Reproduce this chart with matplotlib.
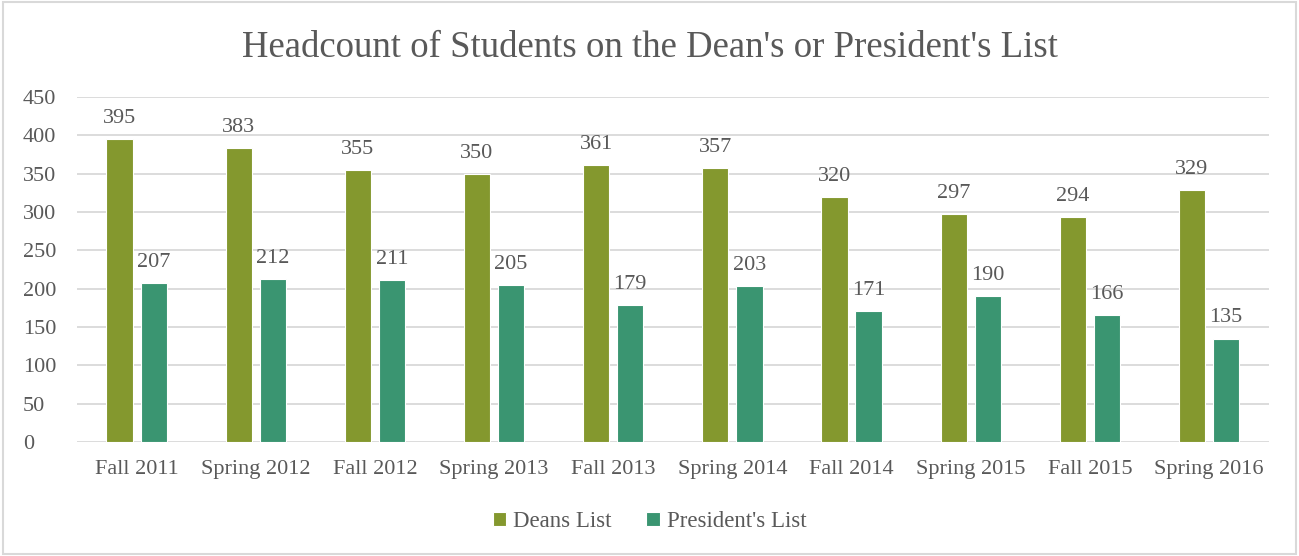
import matplotlib.pyplot as plt
import numpy as np
from matplotlib.patches import Rectangle

terms = ['Fall 2011', 'Spring 2012', 'Fall 2012', 'Spring 2013', 'Fall 2013',
         'Spring 2014', 'Fall 2014', 'Spring 2015', 'Fall 2015', 'Spring 2016']
deans_list = [395, 383, 355, 350, 361, 357, 320, 297, 294, 329]
presidents_list = [207, 212, 211, 205, 179, 203, 171, 190, 166, 135]

text_color = '#595959'
grid_color = '#d9d9d9'
plt.rcParams['font.family'] = ['Liberation Serif', 'DejaVu Serif']

fig = plt.figure(figsize=(12.99, 5.56), dpi=100)
ax = fig.add_axes([0.0593, 0.205, 0.9173, 0.6205])

x = np.arange(len(terms))
width = 0.22
offset = 0.143
bars1 = ax.bar(x - offset, deans_list, width, color='#84982e', edgecolor='white',
               linewidth=0.8, label='Deans List', zorder=3)
bars2 = ax.bar(x + offset, presidents_list, width, color='#3a9571', edgecolor='white',
               linewidth=0.8, label="President's List", zorder=3)

for bars in (bars1, bars2):
    for b in bars:
        ax.annotate(str(int(b.get_height())),
                    (b.get_x() + b.get_width() / 2, b.get_height()),
                    xytext=(0, 8), textcoords='offset points',
                    ha='center', va='bottom', fontsize=16, color=text_color)

ax.set_xlim(-0.5, len(terms) - 0.5)
ax.set_ylim(0, 450)
ax.set_yticks(range(0, 451, 50))
ax.set_xticks(x)
ax.set_xticklabels(terms)
ax.tick_params(axis='both', length=0, labelsize=16, labelcolor=text_color)
ax.tick_params(axis='x', pad=13)
ax.tick_params(axis='y', pad=39)
for lbl in ax.get_yticklabels():
    lbl.set_horizontalalignment('left')
ax.grid(axis='y', color=grid_color, linewidth=1.3, zorder=0)
for s in ax.spines.values():
    s.set_visible(False)

fig.text(0.5, 0.915, "Headcount of Students on the Dean's or President's List",
         ha='center', va='center', fontsize=26.5, color=text_color)

fig.legend(loc='center', bbox_to_anchor=(0.5, 0.062), ncol=2, frameon=False,
           fontsize=16.5, labelcolor=text_color, handlelength=0.6, handleheight=0.6,
           handletextpad=0.3, columnspacing=1.5)

fig.patches.append(Rectangle((0.002, 0.003), 0.996, 0.994, transform=fig.transFigure,
                             fill=False, edgecolor='#d9d9d9', linewidth=1.5))

fig.savefig('out.png', dpi=100, facecolor='white')
